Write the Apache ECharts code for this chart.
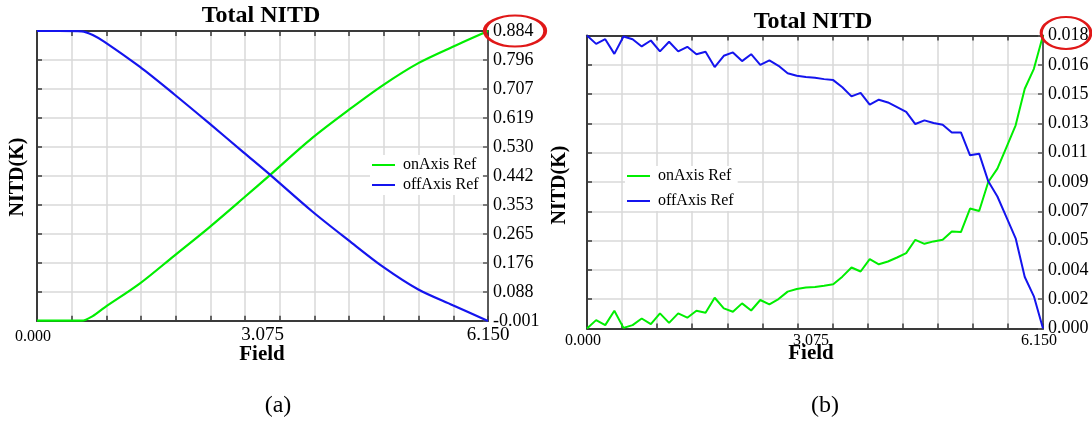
<!DOCTYPE html>
<html><head><meta charset="utf-8">
<script src="https://cdn.jsdelivr.net/npm/echarts@6/dist/echarts.min.js"></script>
<style>html,body{margin:0;padding:0;background:#fff}#c{width:1092px;height:424px}</style>
</head><body><div id="c"></div>
<script>
// ---------- Panel (a) data ----------
const fieldA = [0, 0.30, 0.61, 0.76, 0.92, 1.40, 1.87, 2.35, 2.82, 3.18, 3.75, 4.25, 4.72, 5.20, 5.67, 6.15];
const onAxisA = [0.0, 0.0, 0.0, 0.014, 0.040, 0.113, 0.198, 0.285, 0.375, 0.445, 0.557, 0.643, 0.719, 0.786, 0.836, 0.884];
const offAxisA = [0.884, 0.884, 0.883, 0.872, 0.851, 0.775, 0.691, 0.602, 0.513, 0.445, 0.334, 0.245, 0.164, 0.095, 0.047, -0.001];
const yTickLabelsA = ['-0.001','0.088','0.176','0.265','0.353','0.442','0.530','0.619','0.707','0.796','0.884'];

// ---------- Panel (b) data ----------
const fieldB = [0, 0.123, 0.246, 0.369, 0.492, 0.615, 0.738, 0.861, 0.984, 1.107, 1.230, 1.353, 1.476, 1.599, 1.722, 1.845, 1.968, 2.091, 2.214, 2.337, 2.460, 2.583, 2.706, 2.829, 2.952, 3.075, 3.198, 3.321, 3.444, 3.567, 3.690, 3.813, 3.936, 4.059, 4.182, 4.305, 4.428, 4.551, 4.674, 4.797, 4.920, 5.043, 5.166, 5.289, 5.412, 5.535, 5.658, 5.781, 5.904, 6.027, 6.150];
const onAxisB = [0, 0.00052, 0.00021, 0.00110, 0.00004, 0.00021, 0.00062, 0.00027, 0.00094, 0.00035, 0.00094, 0.00067, 0.00110, 0.00098, 0.00191, 0.00125, 0.00104, 0.00156, 0.00112, 0.00177, 0.00150, 0.00183, 0.00229, 0.00245, 0.00254, 0.00258, 0.00266, 0.00275, 0.00322, 0.00379, 0.00354, 0.00431, 0.00399, 0.00416, 0.00441, 0.00468, 0.00551, 0.00526, 0.00541, 0.00551, 0.00603, 0.00599, 0.00745, 0.00730, 0.00910, 0.00993, 0.01127, 0.01262, 0.01489, 0.01613, 0.01820];
const offAxisB = [0.01820, 0.01768, 0.01797, 0.01706, 0.01814, 0.01797, 0.01752, 0.01789, 0.01721, 0.01781, 0.01721, 0.01750, 0.01704, 0.01719, 0.01624, 0.01694, 0.01715, 0.01661, 0.01704, 0.01638, 0.01665, 0.01632, 0.01586, 0.01570, 0.01562, 0.01557, 0.01549, 0.01543, 0.01499, 0.01442, 0.01464, 0.01390, 0.01421, 0.01404, 0.01375, 0.01346, 0.01270, 0.01293, 0.01276, 0.01266, 0.01218, 0.01218, 0.01076, 0.01086, 0.00914, 0.00820, 0.00690, 0.00560, 0.00320, 0.00200, 0];
const yTickLabelsB = ['0.000','0.002','0.004','0.005','0.007','0.009','0.011','0.013','0.015','0.016','0.018'];

const xTickLabels = ['0.000','3.075','6.150'];
const seriesNames = ['onAxis Ref','offAxis Ref'];
const titleText = 'Total NITD';
const xName = 'Field';
const yName = 'NITD(K)';

const SERIF = '"Liberation Serif", "DejaVu Serif", serif';
const GREEN = '#00ee00', BLUE = '#1414ee';
const GRIDC = '#d9d9d9', AXC = '#3a3a3a', RAXC = '#5a5a5a';

function pairs(xs, ys){ return xs.map((x,i)=>[x, ys[i]]); }

function panelAxes(gi, opts){
  const xs = [
    { // data axis with value labels
      type:'value', gridIndex:gi, min:0, max:6.15, interval:3.075, position:'bottom',
      axisLine:{show:true, onZero:false, lineStyle:{color:AXC, width:2}},
      axisTick:{show:false}, splitLine:{show:false},
      axisLabel:{show:true, margin:opts.xMargin, color:'#000', fontFamily:SERIF, fontSize:opts.xFont,
        formatter:(v)=>{const k=Math.round(v/3.075); const t=xTickLabels[k]; return k===0?'{s|'+t+'}':'{n|'+t+'}';},
        rich:{ s:{fontFamily:SERIF, fontSize:16, color:'#000', padding:opts.padS},
               n:{fontFamily:SERIF, fontSize:opts.xFont, color:'#000', padding:opts.padN} } }
    },
    { // grid axis bottom
      type:'value', gridIndex:gi, min:0, max:13, interval:1, position:'bottom',
      axisLine:{show:false}, axisLabel:{show:false},
      axisTick:{show:true, inside:true, length:5, lineStyle:{color:AXC, width:1.5}},
      splitLine:{show:true, lineStyle:{color:GRIDC, width:1.5}}
    },
    { // top frame axis
      type:'value', gridIndex:gi, min:0, max:13, interval:1, position:'top',
      axisLine:{show:true, onZero:false, lineStyle:{color:AXC, width:2}}, axisLabel:{show:false},
      axisTick:{show:true, inside:true, length:5, lineStyle:{color:AXC, width:1.5}},
      splitLine:{show:false}
    }
  ];
  const ys = [
    { type:'value', gridIndex:gi, min:opts.yMin, max:opts.yMax, show:false, splitLine:{show:false} },
    { // left frame + grid
      type:'value', gridIndex:gi, min:0, max:10, interval:1, position:'left',
      axisLine:{show:true, onZero:false, lineStyle:{color:AXC, width:2}}, axisLabel:{show:false},
      axisTick:{show:true, inside:true, length:5, lineStyle:{color:AXC, width:1.5}},
      splitLine:{show:true, lineStyle:{color:GRIDC, width:1.5}}
    },
    { // right labelled axis
      type:'value', gridIndex:gi, min:0, max:10, interval:1, position:'right',
      axisLine:{show:true, onZero:false, lineStyle:{color:RAXC, width:2}},
      axisTick:{show:true, inside:true, length:5, lineStyle:{color:RAXC, width:1.5}},
      splitLine:{show:false},
      axisLabel:{show:true, margin:5, color:'#000', fontFamily:SERIF, fontSize:18,
        formatter:(v)=>opts.labels[Math.round(v)]}
    }
  ];
  return {x:xs, y:ys};
}

const A = panelAxes(0, {yMin:-0.001, yMax:0.884, labels:yTickLabelsA, xFont:19, xMargin:5, padS:[3,8,0,0], padN:[0,0,0,0]});
const B = panelAxes(1, {yMin:0, yMax:0.0182, labels:yTickLabelsB, xFont:16, xMargin:4, padS:[0,8,0,0], padN:[0,8,0,0]});

function legendFor(left, top, gap){
  return { data:seriesNames, orient:'vertical', left:left, top:top, icon:'rect', itemWidth:23, itemHeight:2,
    itemGap:gap, backgroundColor:'#fff', padding:[2,4,2,2],
    textStyle:{fontFamily:SERIF, fontSize:16, color:'#000', padding:[0,0,0,3]} };
}

function txt(x, y, text, font, rot){
  return {type:'text', x:x, y:y, rotation:rot||0, z:100,
    style:{text:text, font:font, fill:'#000', align:'center', verticalAlign:'middle'}};
}

const option = {
  animation:false,
  backgroundColor:'#fff',
  grid:[
    {left:37, top:31, width:451, height:290, containLabel:false},
    {left:587, top:35.5, width:456, height:293, containLabel:false}
  ],
  xAxis: A.x.concat(B.x),
  yAxis: A.y.concat(B.y),
  legend:[ legendFor(370, 155, 4), legendFor(625, 166, 9) ],
  series:[
    {name:seriesNames[0], type:'line', xAxisIndex:0, yAxisIndex:0, data:pairs(fieldA,onAxisA), showSymbol:false, smooth:0.3, lineStyle:{color:GREEN, width:2.2}, itemStyle:{color:GREEN}},
    {name:seriesNames[1], type:'line', xAxisIndex:0, yAxisIndex:0, data:pairs(fieldA,offAxisA), showSymbol:false, smooth:0.3, lineStyle:{color:BLUE, width:2.2}, itemStyle:{color:BLUE}},
    {name:seriesNames[0], type:'line', xAxisIndex:3, yAxisIndex:3, data:pairs(fieldB,onAxisB), showSymbol:false, lineStyle:{color:GREEN, width:2}, itemStyle:{color:GREEN}},
    {name:seriesNames[1], type:'line', xAxisIndex:3, yAxisIndex:3, data:pairs(fieldB,offAxisB), showSymbol:false, lineStyle:{color:BLUE, width:2}, itemStyle:{color:BLUE}}
  ],
  graphic:[
    txt(261, 16, titleText, 'bold 24px '+SERIF),
    txt(813, 22, titleText, 'bold 24px '+SERIF),
    txt(262, 355, xName, 'bold 21px '+SERIF),
    txt(811, 354, xName, 'bold 21px '+SERIF),
    txt(18, 177, yName, 'bold 20px '+SERIF, Math.PI/2),
    txt(560, 185, yName, 'bold 20px '+SERIF, Math.PI/2),
    txt(278, 406, '(a)', '24px '+SERIF),
    txt(825, 406, '(b)', '24px '+SERIF),
    {type:'circle', x:515, y:31, scaleX:1.95, scaleY:1.0, z:100, shape:{cx:0, cy:0, r:15.5},
      style:{fill:'none', stroke:'#e01818', lineWidth:2, strokeNoScale:true}},
    {type:'circle', x:1066, y:33, scaleX:1.55, scaleY:1.0, z:100, shape:{cx:0, cy:0, r:16},
      style:{fill:'none', stroke:'#e01818', lineWidth:2, strokeNoScale:true}}
  ]
};
const chart = echarts.init(document.getElementById('c'), null, {renderer:'canvas'});
chart.setOption(option);
</script>
</body></html>
